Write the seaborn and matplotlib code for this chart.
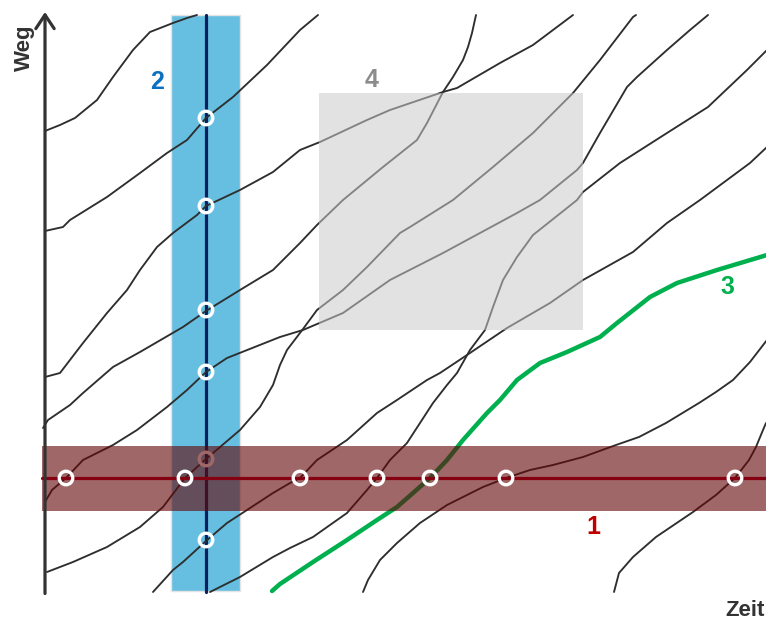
"""
Weg-Zeit-Diagramm mit Fahrzeugtrajektorien und Messmethoden
(1 lokal, 2 momentan, 3 Einzelfahrzeug, 4 Bereich)
"""

import matplotlib
matplotlib.use('Agg')
import matplotlib.pyplot as plt
from matplotlib.patches import Rectangle
import pandas as pd
import seaborn as sns


# Trajektorien: Zeit und Weg
traj_a_zeit = [0, 15, 30, 52, 68, 88, 105, 128, 142, 152]
traj_a_weg = [461, 467, 474, 492, 515, 542, 560, 569, 574, 577]

traj_b_zeit = [0, 18, 25, 62, 95, 122, 142, 161, 188, 222, 255, 273]
traj_b_weg = [361, 365, 372, 395, 419, 439, 452, 474, 495, 527, 562, 577]

traj_c_zeit = [0, 15, 38, 62, 82, 95, 112, 128, 152, 161, 195, 228, 255, 275,
               322, 345, 398, 412, 455, 488, 508, 528]
traj_c_weg = [215, 219, 249, 279, 302, 322, 345, 359, 377, 386, 402, 420, 442, 450,
              472, 482, 500, 504, 529, 547, 562, 577]

traj_d_zeit = [-2, 3, 25, 38, 53, 68, 95, 138, 161, 195, 228, 255, 272, 298, 338,
               372, 382, 398, 408, 418, 423, 427, 431]
traj_d_weg = [164, 172, 187, 199, 212, 225, 240, 265, 281, 302, 322, 349, 367, 392,
              425, 452, 469, 500, 515, 532, 545, 559, 577]

traj_e_zeit = [0, 7, 21, 38, 68, 92, 122, 142, 161, 182, 235, 258, 298, 345, 398,
               472, 495, 532, 538, 555, 582, 592, 622, 645, 663]
traj_e_weg = [90, 102, 114, 132, 147, 162, 185, 202, 220, 234, 255, 262, 279, 312,
              339, 379, 392, 422, 429, 459, 505, 515, 542, 562, 577]

traj_f_zeit = [2, 28, 62, 95, 118, 140, 161, 195, 215, 228, 235, 242, 258, 272,
               298, 322, 355, 365, 408, 448, 488, 528, 555, 588, 591]
traj_f_weg = [20, 30, 45, 65, 85, 114, 133, 162, 185, 207, 227, 242, 263, 282,
              302, 325, 359, 365, 392, 425, 459, 499, 532, 575, 577]

traj_g_zeit = [108, 128, 138, 161, 182, 202, 228, 245, 255, 272, 302, 332, 352,
               382, 395, 422, 462, 505, 538, 588, 622, 655, 705, 722]
traj_g_weg = [0, 22, 30, 51, 69, 82, 99, 109, 114, 132, 152, 179, 192, 212, 219,
              237, 264, 289, 312, 340, 369, 392, 429, 445]

traj_h_zeit = [165, 195, 228, 245, 268, 302, 322, 332, 345, 362, 375, 388, 402,
               412, 425, 440, 448, 458, 472, 488, 522, 532, 538, 575, 622, 663,
               702, 722]
traj_h_weg = [0, 15, 35, 44, 55, 79, 102, 114, 132, 149, 169, 189, 207, 219, 242,
              262, 285, 312, 335, 357, 384, 392, 400, 429, 459, 485, 522, 542]

traj_i_zeit = [318, 323, 335, 352, 375, 402, 418, 438, 461, 485, 508, 538, 571,
               594, 621, 654, 671, 688, 705, 722]
traj_i_weg = [0, 12, 32, 49, 69, 87, 95, 105, 114, 122, 127, 135, 147, 155, 169,
              189, 200, 212, 230, 252]

traj_j_zeit = [569, 574, 588, 611, 648, 671, 690, 704, 711, 718, 721]
traj_j_weg = [0, 19, 35, 55, 80, 97, 114, 132, 145, 162, 169]

# Einzelfahrzeug (3)
gruen_zeit = [227, 235, 268, 302, 332, 352, 368, 385, 402, 418, 442, 455, 472,
              495, 522, 555, 572, 605, 632, 672, 722]
gruen_weg = [1, 8, 30, 52, 72, 85, 99, 114, 132, 152, 179, 192, 212, 229, 240,
             255, 269, 295, 309, 322, 337]

# Messpunkte: Zeitpunkt (2) und Querschnitt (1)
moment_zeit = 161
moment_weg = [474, 386, 282, 220, 52]
moment_weg_verdeckt = [133]
lokal_weg = 114
lokal_zeit = [21, 140, 255, 332, 385, 461, 690]

trajektorien = {
    'A': (traj_a_zeit, traj_a_weg), 'B': (traj_b_zeit, traj_b_weg),
    'C': (traj_c_zeit, traj_c_weg), 'D': (traj_d_zeit, traj_d_weg),
    'E': (traj_e_zeit, traj_e_weg), 'F': (traj_f_zeit, traj_f_weg),
    'G': (traj_g_zeit, traj_g_weg), 'H': (traj_h_zeit, traj_h_weg),
    'I': (traj_i_zeit, traj_i_weg), 'J': (traj_j_zeit, traj_j_weg),
}

rows = []
for name, (zeit, weg) in trajektorien.items():
    for t, s in zip(zeit, weg):
        rows.append({'Fahrzeug': name, 'Zeit': t, 'Weg': s})
df = pd.DataFrame(rows)
df_gruen = pd.DataFrame({'Zeit': gruen_zeit, 'Weg': gruen_weg})

sns.set_style('white')
plt.rcParams['font.family'] = ['Liberation Sans', 'DejaVu Sans']

fig = plt.figure(figsize=(7.66, 6.21), dpi=100)
ax = fig.add_axes([0, 0, 1, 1])
ax.set_xlim(-45, 721)
ax.set_ylim(-29, 592)
ax.axis('off')

# 2: Momentanbeobachtung (blaues Band)
ax.add_patch(Rectangle((126, 1), 69, 576, facecolor='#66bfe1',
                       edgecolor='#e4e4e4', lw=1, zorder=1))
ax.plot([moment_zeit, moment_zeit], [0, 577], color='#0b1f5e', lw=2.3, zorder=2)

# Trajektorien
sns.lineplot(data=df, x='Zeit', y='Weg', units='Fahrzeug', estimator=None,
             sort=False, color='#2e2e2e', linewidth=1.35, ax=ax, zorder=3,
             solid_joinstyle='round', solid_capstyle='round')
sns.lineplot(data=df_gruen, x='Zeit', y='Weg', estimator=None, sort=False,
             color='#00b04f', linewidth=3.2, ax=ax, zorder=3,
             solid_joinstyle='round')

sns.scatterplot(x=[moment_zeit] * len(moment_weg_verdeckt), y=moment_weg_verdeckt,
                ax=ax, s=95, color='white', facecolor='none', edgecolor='white',
                linewidth=2.4, zorder=4)
sns.scatterplot(x=[moment_zeit] * len(moment_weg), y=moment_weg, ax=ax, s=95,
                color='white', facecolor='none', edgecolor='white',
                linewidth=2.4, zorder=9)

# 4: Bereich (grau, halbtransparent über den Linien)
ax.add_patch(Rectangle((274, 262), 264, 237, facecolor='#cbcbcb',
                       edgecolor='none', alpha=0.54, zorder=5))

# 1: lokale Messung (rotes Band)
ax.add_patch(Rectangle((-3, 81), 730, 65, facecolor='#630707',
                       edgecolor='none', alpha=0.61, zorder=6))
ax.plot([-3, 725], [lokal_weg, lokal_weg], color='#850010', lw=2.3, zorder=7)
sns.scatterplot(x=lokal_zeit, y=[lokal_weg] * len(lokal_zeit), ax=ax, s=95,
                color='white', facecolor='none', edgecolor='white',
                linewidth=2.4, zorder=8)

# Achsen mit Pfeilen
achse = dict(arrowstyle='->,head_length=0.45,head_width=0.3', color='#333333',
             lw=2.3, shrinkA=0, shrinkB=0, mutation_scale=22)
ax.annotate('', xy=(0, 580), xytext=(0, -1.5), arrowprops=achse, zorder=10)
ax.annotate('', xy=(725, 0), xytext=(-1.2, 0), arrowprops=achse, zorder=10)

ax.text(-21, 544, 'Weg', rotation=90, ha='center', va='center',
        fontsize=16, fontweight='bold', color='#333333', zorder=10)
ax.text(700, -19, 'Zeit', ha='center', va='center', fontsize=16,
        fontweight='bold', color='#333333', zorder=10)

ax.text(112, 510, '2', ha='center', va='center', fontsize=18,
        fontweight='bold', color='#0a70c2', zorder=10)
ax.text(327, 512, '4', ha='center', va='center', fontsize=18,
        fontweight='bold', color='#8c8c8c', zorder=10)
ax.text(682, 305, '3', ha='center', va='center', fontsize=18,
        fontweight='bold', color='#00b04f', zorder=10)
ax.text(548, 65, '1', ha='center', va='center', fontsize=18,
        fontweight='bold', color='#c00000', zorder=10)

fig.savefig('out.png', dpi=100)
